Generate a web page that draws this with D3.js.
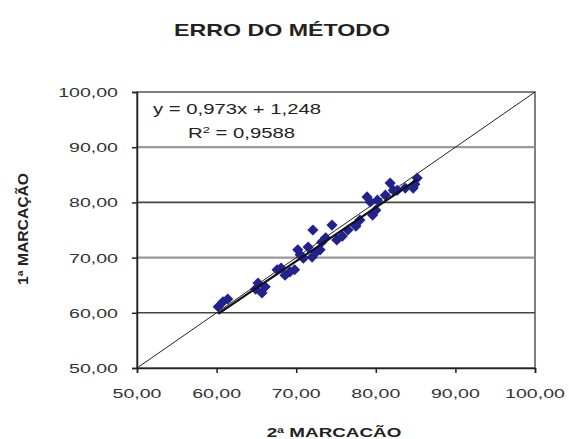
<!DOCTYPE html>
<html>
<head>
<meta charset="utf-8">
<script src="https://cdn.jsdelivr.net/npm/d3@7"></script>
<style>
  body { margin: 0; background: #fff; }
  text { font-family: "Liberation Sans", Arial, sans-serif; fill: #222; }
</style>
</head>
<body>
<svg id="chart" width="569" height="439"></svg>
<script>
// 2a marcacao (x) vs 1a marcacao (y)
const xValues = [60.2, 60.8, 61.4, 64.9, 65.2, 65.7, 66.1, 67.6, 68.1, 68.6, 69.2, 69.8, 70.2, 70.5,
  70.9, 71.5, 72.0, 72.5, 73.0, 72.1, 73.2, 73.7, 74.5, 75.1, 75.8, 76.5, 77.5, 78.0, 78.9, 79.3,
  79.6, 80.2, 80.0, 81.2, 81.8, 82.2, 82.7, 83.7, 84.7, 85.2, 84.9];
const yValues = [61.1, 62.0, 62.5, 64.3, 65.4, 63.6, 64.7, 67.8, 68.1, 66.8, 67.4, 67.8, 71.4, 70.5,
  69.9, 71.9, 70.1, 71.0, 71.4, 75.0, 72.8, 73.6, 75.9, 73.2, 73.9, 75.0, 75.7, 76.8, 81.0, 80.1,
  77.7, 80.4, 78.6, 81.3, 83.5, 82.2, 82.2, 82.6, 82.6, 84.4, 83.3];
const tickValues = [50, 60, 70, 80, 90, 100];
const slope = 0.973, intercept = 1.248, r2 = "0,9588";
const title = "ERRO DO MÉTODO";
const xTitle = "2ª MARCACÃO";
const yTitle = "1ª MARCAÇÃO";

const svg = d3.select("#chart");
const pLeft = 137, pRight = 535, pTop = 92, pBottom = 368;
const x = d3.scaleLinear().domain([50, 100]).range([pLeft, pRight]);
const y = d3.scaleLinear().domain([50, 100]).range([pBottom, pTop]);
const fmt = v => d3.format(".2f")(v).replace(".", ",");
const sx = 1.45; // the picture is stretched sideways

// title
svg.append("text")
  .attr("transform", `translate(282,36) scale(${sx},1)`)
  .attr("text-anchor", "middle")
  .style("font-size", "16px").style("font-weight", "bold")
  .text(title);

// plot frame
svg.append("rect")
  .attr("x", pLeft).attr("y", pTop)
  .attr("width", pRight - pLeft).attr("height", pBottom - pTop)
  .attr("fill", "none").attr("stroke", "#555").attr("stroke-width", 1.5);

// grid lines
svg.selectAll(".grid")
  .data(tickValues.slice(1, -1))
  .join("line")
  .attr("x1", pLeft).attr("x2", pRight)
  .attr("y1", d => y(d)).attr("y2", d => y(d))
  .attr("stroke", (d, i) => i % 2 ? "#999" : "#444")
  .attr("stroke-width", (d, i) => i % 2 ? 2.2 : 1.6);

// axes
const yAxis = d3.axisLeft(y).tickValues(tickValues).tickSize(5).tickFormat("");
const xAxis = d3.axisBottom(x).tickValues(tickValues).tickSize(5).tickFormat("");
svg.append("g").attr("transform", `translate(${pLeft},0)`).call(yAxis)
  .call(g => g.selectAll("line,path").attr("stroke", "#222").attr("stroke-width", 1.5));
svg.append("g").attr("transform", `translate(0,${pBottom})`).call(xAxis)
  .call(g => g.selectAll("line,path").attr("stroke", "#222").attr("stroke-width", 1.5));

// tick labels (stretched)
svg.selectAll(".ylab")
  .data(tickValues)
  .join("text")
  .attr("transform", d => `translate(118,${y(d) + 5}) scale(${sx},1)`)
  .attr("text-anchor", "end")
  .style("font-size", "13.5px")
  .style("fill", "#333")
  .text(fmt);
svg.selectAll(".xlab")
  .data(tickValues)
  .join("text")
  .attr("transform", d => `translate(${x(d)},398) scale(${sx},1)`)
  .attr("text-anchor", "middle")
  .style("font-size", "13.5px")
  .style("fill", "#333")
  .text(fmt);

// axis titles
svg.append("text")
  .attr("transform", `translate(334,437) scale(${sx},1)`)
  .attr("text-anchor", "middle")
  .style("font-size", "13px").style("font-weight", "bold")
  .text(xTitle);
svg.append("text")
  .attr("transform", `translate(28,229) rotate(-90) scale(1,${sx})`)
  .attr("text-anchor", "middle")
  .attr("textLength", 112).attr("lengthAdjust", "spacingAndGlyphs")
  .style("font-size", "10px").style("font-weight", "bold")
  .text(yTitle);

// reference line y = x
svg.append("line")
  .attr("x1", x(50)).attr("y1", y(50))
  .attr("x2", x(100)).attr("y2", y(100))
  .attr("stroke", "#222").attr("stroke-width", 1);

// points
const pts = xValues.map((v, i) => [v, yValues[i]]);
svg.selectAll(".pt")
  .data(pts)
  .join("path")
  .attr("d", d3.symbol(d3.symbolDiamond2, 80))
  .attr("transform", d => `translate(${x(d[0])},${y(d[1])})`)
  .attr("fill", "#22228e");

// trendline over data range
const xMin = d3.min(xValues), xMax = d3.max(xValues);
svg.append("line")
  .attr("x1", x(xMin)).attr("y1", y(slope * xMin + intercept))
  .attr("x2", x(xMax)).attr("y2", y(slope * xMax + intercept))
  .attr("stroke", "#111").attr("stroke-width", 2.2);

// equation
svg.append("text")
  .attr("transform", `translate(153,114) scale(${sx},1)`)
  .style("font-size", "14px")
  .text(`y = ${String(slope).replace(".", ",")}x + ${String(intercept).replace(".", ",")}`);
svg.append("text")
  .attr("transform", `translate(188,138) scale(${sx},1)`)
  .style("font-size", "14px")
  .html(`R<tspan dy="-5" font-size="9px">2</tspan><tspan dy="5"> = ${r2}</tspan>`);
</script>
</body>
</html>
